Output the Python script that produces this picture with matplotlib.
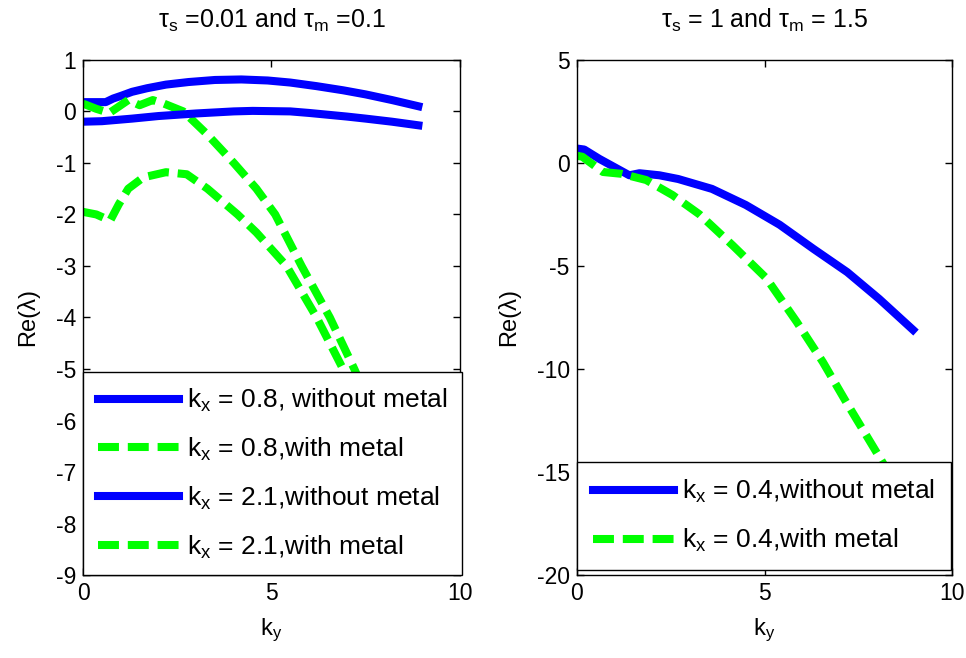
import matplotlib
matplotlib.use("Agg")
import matplotlib.pyplot as plt

plt.rcParams["font.family"] = ["Liberation Sans", "DejaVu Sans"]
plt.rcParams["mathtext.fontset"] = "custom"
plt.rcParams["mathtext.rm"] = "Liberation Sans"
plt.rcParams["mathtext.it"] = "Liberation Sans:italic"
plt.rcParams["axes.unicode_minus"] = False

# left panel: tau_s = 0.01, tau_m = 0.1
ky_08_no = [0, 0.3, 0.6, 0.8, 1.0, 1.3, 1.7, 2.2, 2.8, 3.5, 4.2, 4.9, 5.5, 6.2, 6.9, 7.5, 8.2, 8.9]
re_08_no = [0.18, 0.18, 0.18, 0.25, 0.3, 0.38, 0.45, 0.52, 0.57, 0.61, 0.62, 0.6, 0.56, 0.49, 0.41, 0.33, 0.22, 0.1]

ky_08_metal = [0, 0.35, 0.7, 1.0, 1.2, 1.5, 1.85, 2.15, 2.66, 3.3, 4.0, 4.6, 5.1, 5.8, 6.55, 7.2, 7.8, 8.4]
re_08_metal = [0.15, 0.05, -0.03, 0.12, 0.22, 0.12, 0.22, 0.15, 0.0, -0.45, -1.0, -1.5, -2.0, -3.0, -4.0, -5.0, -6.0, -7.1]

ky_21_no = [0, 0.5, 1.3, 2.0, 3.0, 4.0, 4.5, 5.5, 6.0, 7.0, 7.5, 8.2, 8.9]
re_21_no = [-0.2, -0.19, -0.14, -0.09, -0.04, 0.0, 0.01, 0.0, -0.03, -0.1, -0.14, -0.2, -0.27]

ky_21_metal = [0, 0.35, 0.72, 0.95, 1.2, 1.6, 2.2, 2.75, 3.3, 4.1, 4.6, 5.4, 6.2, 6.9, 7.5, 8.1]
re_21_metal = [-1.95, -2.0, -2.12, -1.8, -1.5, -1.28, -1.18, -1.22, -1.5, -2.0, -2.35, -3.0, -4.0, -5.0, -6.0, -7.1]

# right panel: tau_s = 1, tau_m = 1.5
ky_04_no = [0, 0.2, 0.6, 1.0, 1.4, 1.67, 2.2, 2.7, 3.6, 4.5, 5.4, 6.3, 7.2, 8.05, 8.95]
re_04_no = [0.7, 0.65, 0.2, -0.2, -0.6, -0.5, -0.6, -0.78, -1.26, -2.04, -3.0, -4.17, -5.3, -6.6, -8.1]

ky_04_metal = [0, 0.15, 0.7, 1.2, 1.85, 2.55, 3.27, 4.15, 5.05, 5.85, 6.55, 7.17, 7.7, 8.13, 8.6, 9.0]
re_04_metal = [0.35, 0.3, -0.44, -0.53, -0.83, -1.56, -2.5, -4.0, -5.6, -7.7, -9.66, -11.6, -13.2, -14.5, -16.0, -17.5]

blue = "#0000ff"
green = "#00ff00"
lw = 5.8
dash = (2.6, 1.1)

fig = plt.figure(figsize=(9.66, 6.58), dpi=100)
ax1 = fig.add_axes([0.086, 0.126, 0.390, 0.783])
ax2 = fig.add_axes([0.597, 0.126, 0.389, 0.783])

ax1.plot(ky_08_no, re_08_no, color=blue, lw=lw, label="k$_\\mathrm{x}$ = 0.8, without metal")
ax1.plot(ky_08_metal, re_08_metal, color=green, lw=lw, dashes=dash, label="k$_\\mathrm{x}$ = 0.8,with metal")
ax1.plot(ky_21_no, re_21_no, color=blue, lw=lw, label="k$_\\mathrm{x}$ = 2.1,without metal")
ax1.plot(ky_21_metal, re_21_metal, color=green, lw=lw, dashes=dash, label="k$_\\mathrm{x}$ = 2.1,with metal")

ax2.plot(ky_04_no, re_04_no, color=blue, lw=lw, label="k$_\\mathrm{x}$ = 0.4,without metal")
ax2.plot(ky_04_metal, re_04_metal, color=green, lw=lw, dashes=dash, label="k$_\\mathrm{x}$ = 0.4,with metal")

ax1.set_xlim(0, 10)
ax1.set_ylim(-9, 1)
ax1.set_yticks(range(-9, 2))
ax2.set_xlim(0, 10)
ax2.set_ylim(-20, 5)
ax2.set_yticks(range(-20, 6, 5))

fs = 16.5
for ax in (ax1, ax2):
    ax.set_xticks([0, 5, 10])
    ax.tick_params(direction="in", top=True, right=True, labelsize=fs, length=5, width=1, pad=5)
    for sp in ax.spines.values():
        sp.set_linewidth(1)
    ax.set_xlabel("k$_\\mathrm{y}$", fontsize=17, labelpad=8)
    ax.set_ylabel("Re(λ)", fontsize=17, labelpad=12)

ax1.set_title("τ$_\\mathrm{s}$ =0.01 and τ$_\\mathrm{m}$ =0.1", fontsize=18, pad=23)
ax2.set_title("τ$_\\mathrm{s}$ = 1 and τ$_\\mathrm{m}$ = 1.5", fontsize=18, pad=23)

lfs = 19
leg1 = ax1.legend(loc="lower left", bbox_to_anchor=(0.0, 0.0), borderaxespad=0, fontsize=lfs,
                  handlelength=3.1, handletextpad=0.3, labelspacing=0.82, borderpad=0.55,
                  fancybox=False, framealpha=1, edgecolor="black")
leg1.get_frame().set_linewidth(1)
leg2 = ax2.legend(loc="lower left", bbox_to_anchor=(0.0, 0.01), borderaxespad=0, fontsize=lfs,
                  handlelength=3.1, handletextpad=0.3, labelspacing=0.82, borderpad=0.6,
                  fancybox=False, framealpha=1, edgecolor="black")
leg2.get_frame().set_linewidth(1)

fig.savefig("out.png", dpi=100)
